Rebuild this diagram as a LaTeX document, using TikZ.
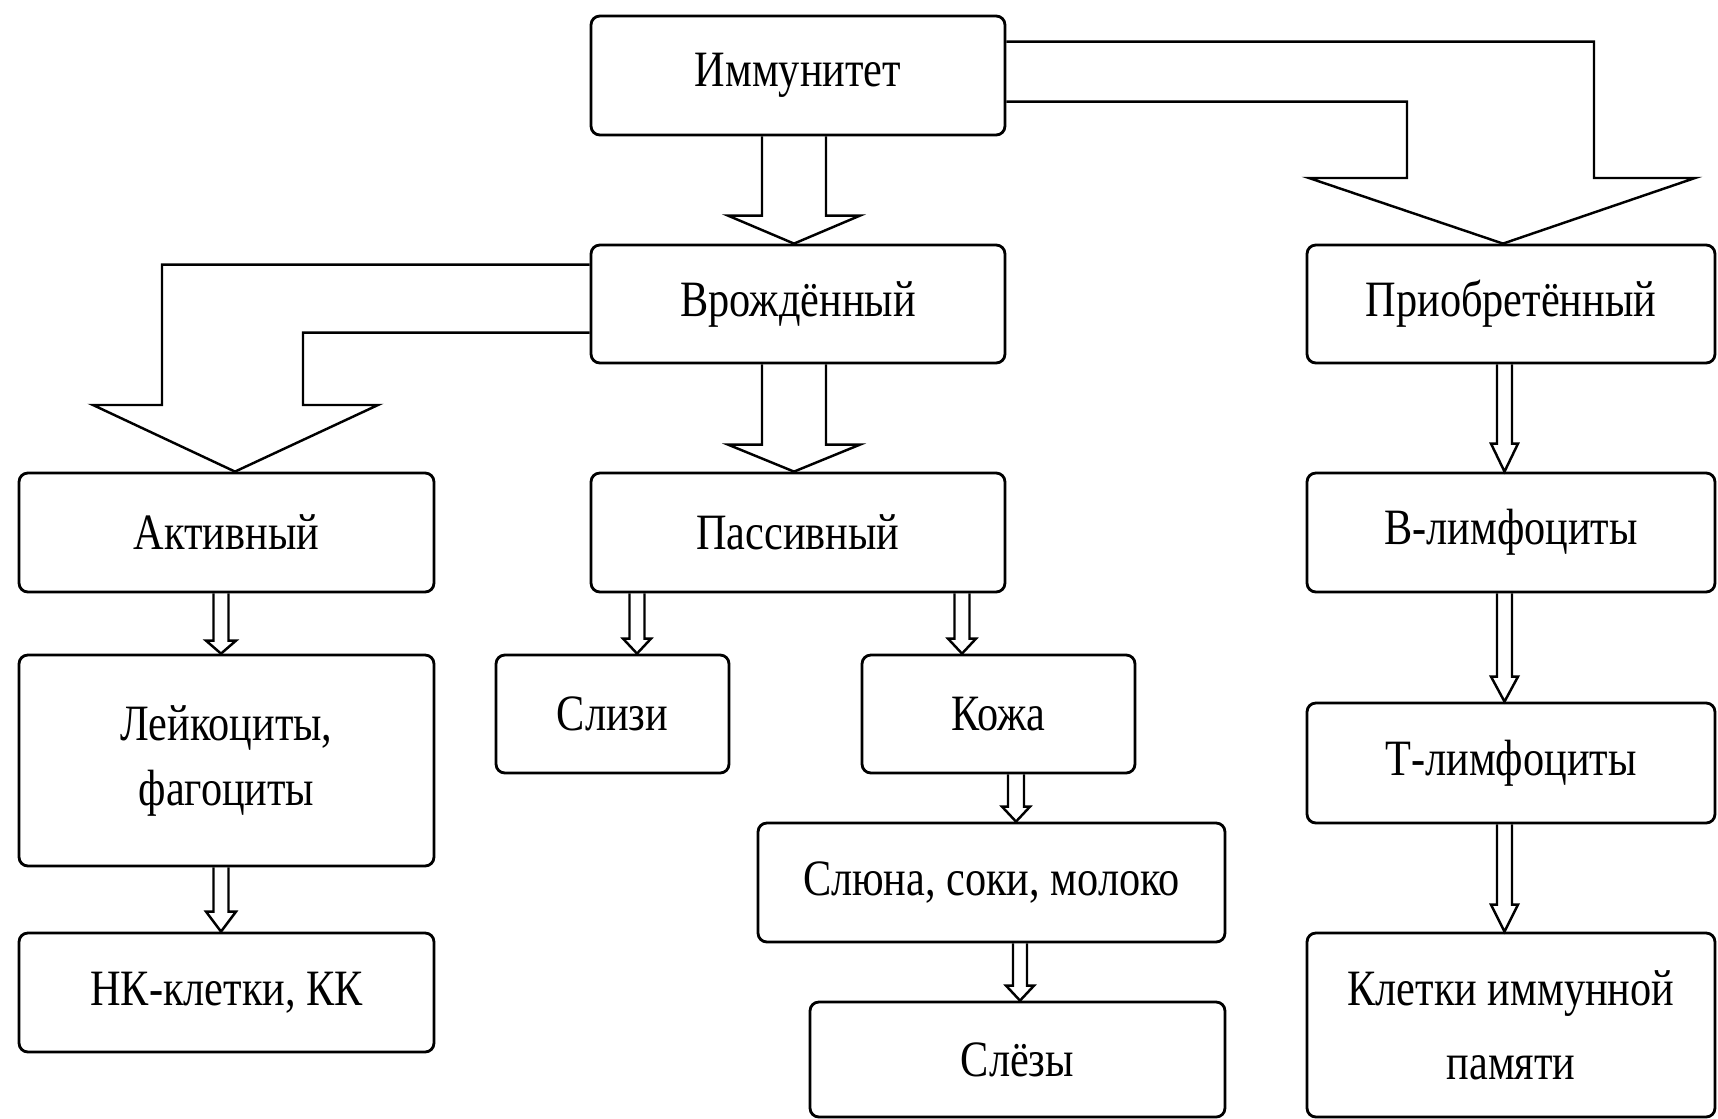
\documentclass[tikz,border=0pt]{standalone}
\usepackage{fontspec}
\setmainfont{Liberation Serif}[FakeStretch=0.83]
\usetikzlibrary{calc}

% hollow block arrow straight down: from, to, x, half shaft, half head, head length
\newcommand{\blockdown}[6]{%
  \draw[arrowline] let \p1=(#1.south), \p2=(#2.north) in
    ({(#3-#4)*0.02cm},\y1) -- ({(#3-#4)*0.02cm},{\y2+#6*0.02cm})
    -- ({(#3-#5)*0.02cm},{\y2+#6*0.02cm}) -- ({#3*0.02cm},\y2)
    -- ({(#3+#5)*0.02cm},{\y2+#6*0.02cm}) -- ({(#3+#4)*0.02cm},{\y2+#6*0.02cm})
    -- ({(#3+#4)*0.02cm},\y1);}

\tikzset{
  box/.style={draw, line width=1.6pt, rounded corners=5pt, inner sep=0pt, align=center,
    minimum width=8.28cm, minimum height=2.38cm, font=\fontsize{29}{37}\selectfont},
  arrowline/.style={line width=1.4pt, line join=miter},
}

\begin{document}
\begin{tikzpicture}[x=0.02cm,y=-0.02cm]
  \useasboundingbox (0,0) rectangle (1718,1119);

  \node[box] (imm) at (798,75.5) {Иммунитет};
  \node[box, minimum height=2.36cm] (vroz) at (798,304) {Врождённый};
  \node[box, minimum width=8.16cm, minimum height=2.36cm] (prio) at (1511,304) {Приобретённый};
  \node[box, minimum width=8.30cm] (akt) at (226.5,532.5) {Активный};
  \node[box] (pas) at (798,532.5) {Пассивный};
  \node[box, minimum width=8.16cm] (blim) at (1511,532.5) {В-лимфоциты};
  \node[box, minimum width=8.30cm, minimum height=4.22cm] (leik) at (226.5,760.5) {Лейкоциты,\\фагоциты};
  \node[box, minimum width=4.66cm, minimum height=2.36cm] (sliz) at (612.5,714) {Слизи};
  \node[box, minimum width=5.46cm, minimum height=2.36cm] (kozh) at (998.5,714) {Кожа};
  \node[box, minimum width=8.16cm, minimum height=2.40cm] (tlim) at (1511,763) {Т-лимфоциты};
  \node[box, minimum width=9.34cm] (sliu) at (991.5,882.5) {Слюна, соки, молоко};
  \node[box, minimum width=8.30cm] (nk) at (226.5,992.5) {НК-клетки, КК};
  \node[box, minimum width=8.30cm, minimum height=2.30cm] (slez) at (1017.5,1059.5) {Слёзы};
  \node[box, minimum width=8.16cm, minimum height=3.68cm,
    font=\fontsize{29}{42}\selectfont] (klet) at (1511,1025) {Клетки иммунной\\памяти};

  % bent arrows
  \draw[arrowline] ($(imm.north east)+(0,27)$) -| (1594,178) -- (1695,178)
    -- ($(prio.north)+(-8,0)$) -- (1309,178) -- (1407,178) |- ($(imm.north east)+(0,87)$);
  \draw[arrowline] ($(vroz.north west)+(0,21)$) -| (162,405) -- (93,405)
    -- ($(akt.north)+(8.5,0)$) -- (378,405) -- (303,405) |- ($(vroz.north west)+(0,89)$);

  % straight arrows
  \blockdown{imm}{vroz}{794}{32}{66}{28}
  \blockdown{vroz}{pas}{794}{32}{66}{27}
  \blockdown{akt}{leik}{221}{7.5}{15}{13}
  \blockdown{leik}{nk}{221}{7.5}{15}{20}
  \blockdown{pas}{sliz}{637}{7.5}{14}{15}
  \blockdown{pas}{kozh}{962}{7.5}{14}{15}
  \blockdown{kozh}{sliu}{1016}{8}{14}{15}
  \blockdown{sliu}{slez}{1020}{7}{14}{15}
  \blockdown{prio}{blim}{1504.5}{7.5}{13.5}{28}
  \blockdown{blim}{tlim}{1504.5}{7.5}{13.5}{25}
  \blockdown{tlim}{klet}{1504.5}{7.5}{13.5}{27}
\end{tikzpicture}
\end{document}
